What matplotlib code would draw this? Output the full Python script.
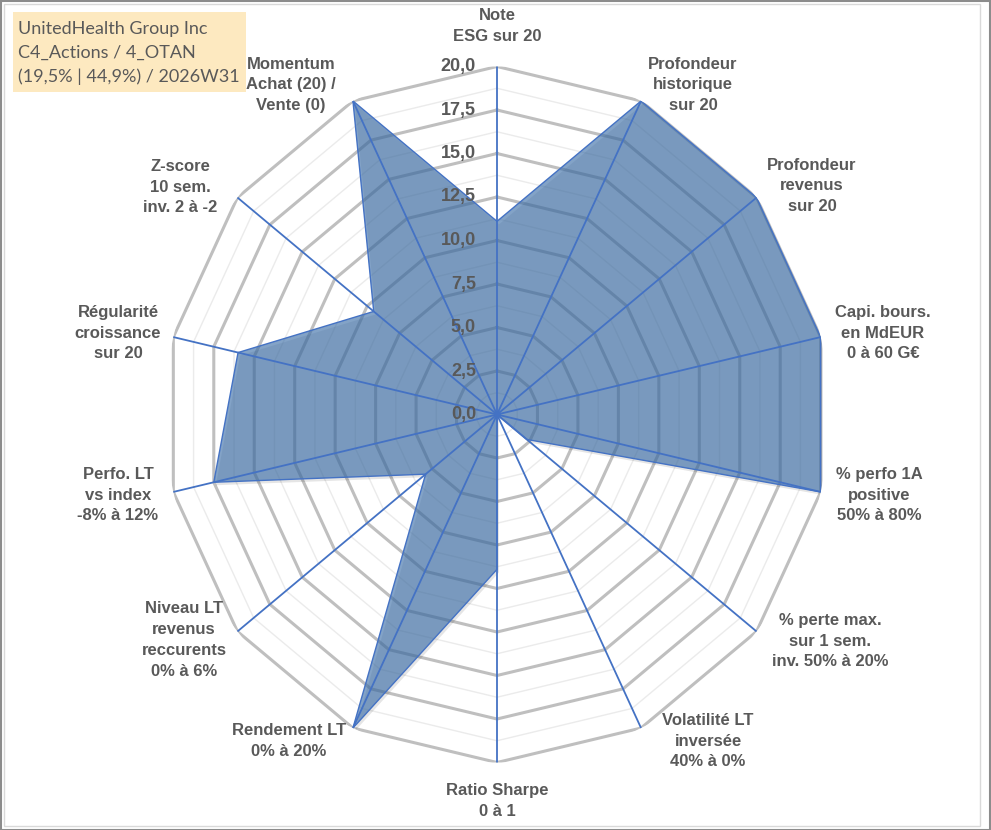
#!/usr/bin/env python3
"""
Radar chart of the stock scoring grid (UnitedHealth Group Inc), Excel-like look.
"""

import matplotlib

matplotlib.use("Agg")
import matplotlib.pyplot as plt
import matplotlib.transforms as mtransforms
import numpy as np
from matplotlib.patches import Rectangle

categories = [
    "Note\nESG sur 20",
    "Profondeur\nhistorique\nsur 20",
    "Profondeur\nrevenus\nsur 20",
    "Capi. bours.\nen MdEUR\n0 à 60 G€",
    "% perfo 1A\npositive\n50% à 80%",
    "% perte max.\nsur 1 sem.\ninv. 50% à 20%",
    "Volatilité LT\ninversée\n40% à 0%",
    "Ratio Sharpe\n0 à 1",
    "Rendement LT\n0% à 20%",
    "Niveau LT\nrevenus\nreccurents\n0% à 6%",
    "Perfo. LT\nvs index\n-8% à 12%",
    "Régularité\ncroissance\nsur 20",
    "Z-score\n10 sem.\ninv. 2 à -2",
    "Momentum\nAchat (20) /\nVente (0)",
]
scores = [11.1, 20.0, 20.0, 20.0, 20.0, 2.3, 0.0, 8.9, 20.0, 5.5, 17.5, 16.0, 9.5, 20.0]

r_ticks = [0.0, 2.5, 5.0, 7.5, 10.0, 12.5, 15.0, 17.5, 20.0]
r_tick_labels = ["0,0", "2,5", "5,0", "7,5", "10,0", "12,5", "15,0", "17,5", "20,0"]

title_lines = [
    "UnitedHealth Group Inc",
    "C4_Actions / 4_OTAN",
    "(19,5% | 44,9%) / 2026W31",
]

W, H = 991, 830
TEXT = "#595959"
BLUE = "#4472C4"
FONT = ["Liberation Sans", "DejaVu Sans"]


def main():
    fig = plt.figure(figsize=(W / 100, H / 100), dpi=100)
    fig.patch.set_facecolor("white")

    # chart is slightly squeezed horizontally in the reference, so let the polar box be non-square
    cx, cy, rx, ry = 497, 414.5, 332, 348
    ax = fig.add_axes(
        [(cx - rx) / W, (H - cy - ry) / H, 2 * rx / W, 2 * ry / H], projection="polar"
    )
    ax.set_aspect("auto")
    ax.set_theta_zero_location("N")
    ax.set_theta_direction(-1)
    ax.set_ylim(0, r_ticks[-1])
    ax.set_axis_off()

    n = len(categories)
    angles = np.arange(n) * 2 * np.pi / n
    closed = np.append(angles, angles[0])

    # minor rings halfway between the major ones
    for lo, hi in zip(r_ticks[:-1], r_ticks[1:]):
        mid = (lo + hi) / 2
        ax.plot(closed, [mid] * (n + 1), color="#EBEBEB", lw=1.0, zorder=1)
    for r in r_ticks[1:]:
        ax.plot(closed, [r] * (n + 1), color="#BFBFBF", lw=2.2, zorder=2)

    vals = np.append(scores, scores[0])
    shadow = mtransforms.offset_copy(ax.transData, fig=fig, x=2, y=-3, units="dots")
    ax.fill(closed, vals, color="#000000", alpha=0.10, lw=0, zorder=3, transform=shadow)
    ax.fill(closed, vals, color="#3D6FA8", alpha=0.64, lw=0, zorder=4)
    ax.plot(closed, vals, color=BLUE, lw=1.0, zorder=5)

    for a in angles:
        ax.plot([a, a], [0, r_ticks[-1]], color=BLUE, lw=1.3, zorder=6)
    ax.plot([0], [0], "o", color=BLUE, ms=4, zorder=7)

    for r, lab in zip(r_ticks, r_tick_labels):
        ax.annotate(
            lab, xy=(0, r), xytext=(-21, 0), textcoords="offset pixels",
            ha="right", va="center", fontsize=13, fontweight="bold",
            color=TEXT, family=FONT, zorder=8,
        )

    # label centres in pixels
    label_xy = [
        (497, 26), (693, 85), (812, 186), (883, 333), (879, 495),
        (830, 641), (708, 741), (497, 801), (289, 741), (184, 640),
        (118, 495), (118, 333), (180, 187), (291, 85),
    ]
    for lab, (x, y) in zip(categories, label_xy):
        fig.text(
            x / W, 1 - y / H, lab, ha="center", va="center", multialignment="center",
            fontsize=12, fontweight="bold", color=TEXT, family=FONT,
            linespacing=1.48,
        )

    # title box top-left
    fig.patches.append(
        Rectangle((13 / W, 1 - 92 / H), 233 / W, 80 / H, transform=fig.transFigure,
                  facecolor="#FDE9C0", edgecolor="none", zorder=0)
    )
    fig.text(18 / W, 1 - 53 / H, "\n".join(title_lines), ha="left", va="center",
             fontsize=13, color=TEXT, family="Lato", linespacing=1.6)

    # chart frame
    fig.patches.append(
        Rectangle((4 / W, 4 / H), 976 / W, 822 / H, transform=fig.transFigure,
                  facecolor="none", edgecolor="#D9D9D9", lw=1.0)
    )
    fig.patches.append(
        Rectangle((0.5 / W, 0.5 / H), 989 / W, 828 / H, transform=fig.transFigure,
                  facecolor="none", edgecolor="#8C8C8C", lw=1.5)
    )

    fig.savefig("out.png", dpi=100)
    plt.close(fig)


if __name__ == "__main__":
    main()
